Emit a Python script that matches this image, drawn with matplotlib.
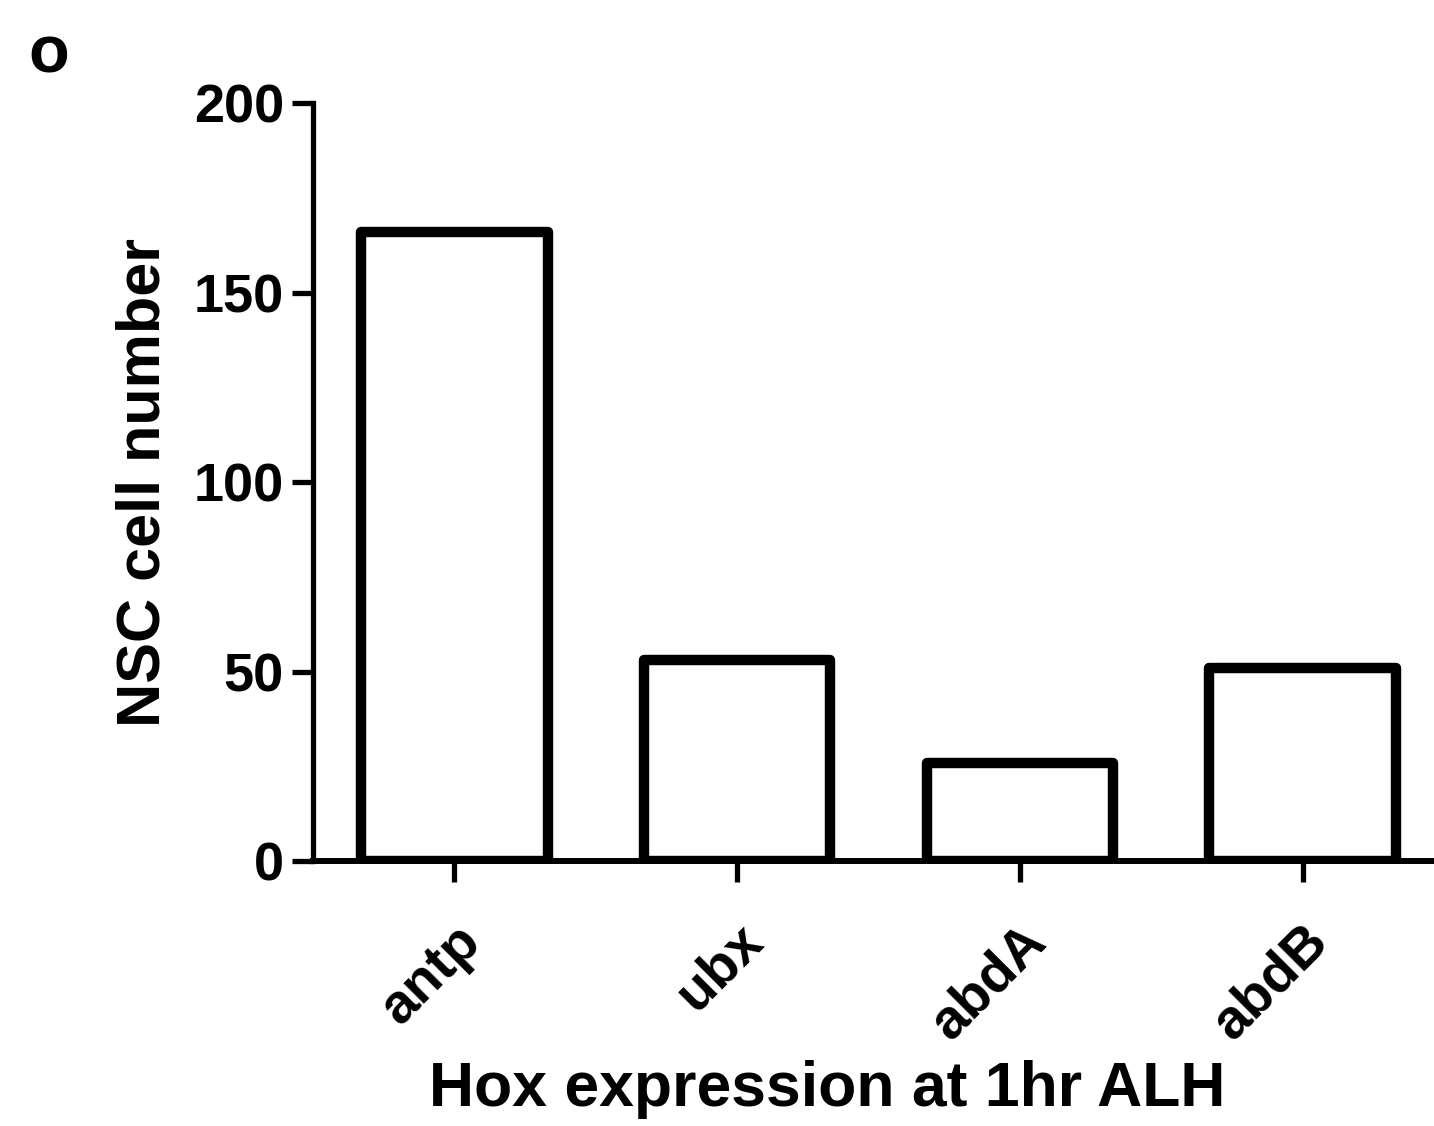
import matplotlib
matplotlib.use("Agg")
import matplotlib.pyplot as plt
import matplotlib.transforms as mtransforms

# data
genes = ["antp", "ubx", "abdA", "abdB"]
nsc_counts = [166, 53, 26, 51]
y_ticks = [0, 50, 100, 150, 200]

plt.rcParams['font.family'] = ['Liberation Sans', 'DejaVu Sans']
plt.rcParams['font.weight'] = 'bold'

fig = plt.figure(figsize=(14.34, 11.26), dpi=100)
ax = fig.add_axes([0.2183, 0.2353, 0.7817, 0.6732])

x = list(range(len(genes)))
ax.bar(x, nsc_counts, width=0.66, color='white', edgecolor='black',
       linewidth=7.5, joinstyle='round', zorder=3)

ax.set_xlim(-0.5, 3.465)
ax.set_ylim(0, 200)
ax.set_yticks(y_ticks)
ax.set_xticks(x)
ax.set_xticklabels(genes, rotation=45, ha='right', va='center',
                   rotation_mode='anchor', fontsize=40, fontweight='bold')
ax.tick_params(axis='y', labelsize=39, length=15, width=3.8, pad=6)
ax.tick_params(axis='x', length=15, width=3.8, pad=14)
for lab in ax.get_yticklabels():
    lab.set_fontweight('bold')

# shift the rotated tick labels to line up with the original
offset = mtransforms.ScaledTranslation(18 / 100, -32 / 100, fig.dpi_scale_trans)
for lab in ax.get_xticklabels():
    lab.set_transform(lab.get_transform() + offset)

for side in ['top', 'right']:
    ax.spines[side].set_visible(False)
ax.spines['left'].set_linewidth(3.8)
ax.spines['bottom'].set_linewidth(4.3)
ax.spines['bottom'].set_zorder(4)

ax.set_ylabel("NSC cell number", fontsize=44, fontweight='bold')
ax.yaxis.set_label_coords(-0.125, 0.5)
ax.set_xlabel("Hox expression at 1hr ALH", fontsize=45, fontweight='bold')
ax.xaxis.set_label_coords((827 - 313) / 1121, -0.262)

fig.text(0.034, 0.951, "o", fontsize=48, fontweight='bold', ha='center', va='center')

fig.savefig("out.png", dpi=100)
